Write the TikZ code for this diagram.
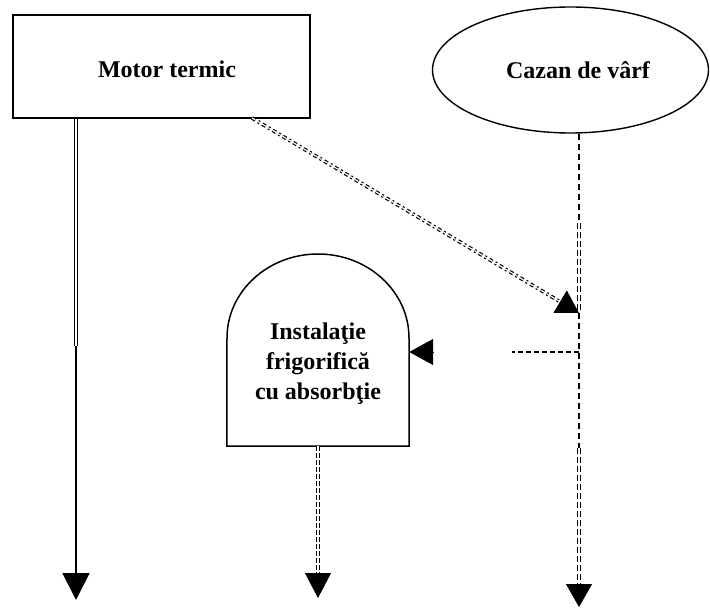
\documentclass[tikz,border=0pt]{standalone}
\usepackage{fontspec}
\setmainfont{Liberation Serif}
\usetikzlibrary{shapes.geometric,arrows.meta,calc}
\begin{document}
\begin{tikzpicture}[x=1pt,y=-1pt,
  lbl/.style={font=\bfseries\fontsize{24}{30}\selectfont, align=center, inner sep=0pt},
  border/.style={draw, line width=1.6pt},
  dblsolid/.style={draw, line width=1.1pt, double=white, double distance=1.5pt},
  thick1/.style={draw, line width=1.8pt},
  sdash/.style={draw, line width=1.5pt, dash pattern=on 6pt off 4pt},
  ddash/.style={draw, line width=1.4pt, double=white, double distance=1.8pt, dash pattern=on 6pt off 3pt},
  mdash/.style={draw, line width=1.4pt, double=white, double distance=1.8pt, dash pattern=on 5pt off 2pt},
  diag/.style={draw, line width=1.2pt, double=white, double distance=1.2pt, dash pattern=on 4pt off 3pt on 2pt off 3pt},
  arrowtip/.style={draw, line width=0.8pt, -{Triangle[length=#1, width=26pt]}},
  arrowtip/.default=25pt
]
\useasboundingbox (0,0) rectangle (710,609);

% nodes
\node[border, rectangle, minimum width=297pt, minimum height=103pt, inner sep=0pt] (motor) at (161.5,66.5) {};
\node[lbl] (motortxt) at (167,69) {Motor termic};
\node[draw, line width=1.4pt, ellipse, minimum width=276pt, minimum height=126pt, inner sep=0pt] (cazan) at (570.5,70) {};
\node[lbl] (cazantxt) at (578,70) {Cazan de vârf};

\node[minimum width=182pt, minimum height=192pt, inner sep=0pt] (inst) at (318,350) {};
\draw[border, line width=1.5pt] (inst.south west) -- (227,338)
  arc[start angle=180, end angle=0, x radius=91pt, y radius=84pt]
  -- (inst.south east) -- cycle;
\node[lbl] (insttxt) at (318,364) {Instalaţie\\frigorifică\\cu absorbţie};

% coordinates
\coordinate (Lx) at (76,0);
\coordinate (Lmid) at (76,346);
\coordinate (Lend) at (76,600);
\coordinate (Rx) at (579,0);
\coordinate (R1) at (579,223);
\coordinate (R2) at (579,313);
\coordinate (R3) at (579,448);
\coordinate (R4) at (579,584);
\coordinate (R5) at (579,607);
\coordinate (D1) at (252,118);
\coordinate (H1) at (579,352);
\coordinate (H2) at (512,352);
\coordinate (Hb) at (434,352);
\coordinate (M1) at (318,573);
\coordinate (M2) at (318,598);

% left connector
\draw[dblsolid] (motor.south -| Lx) -- (Lmid);
\draw[thick1, -{Triangle[length=27pt, width=27pt]}] (Lmid) -- (Lend);

% diagonal connector
\draw[diag] (D1) -- ($(R2)!22pt!(D1)$);
\draw[arrowtip=22pt] ($(R2)!22pt!(D1)$) -- (R2);

% right connector
\draw[sdash] (cazan.south -| Rx) -- (R1);
\draw[ddash] (R1) -- (R2);
\draw[sdash] (R2) -- (R3);
\draw[ddash] (R3) -- (R4);
\draw[arrowtip=23pt] (R4) -- (R5);

% horizontal connector
\draw[sdash, dash pattern=on 5pt off 3pt, line width=1.3pt] (H1) -- (H2);
\draw[arrowtip=24pt] (Hb) -- (inst.east |- H1);

% middle connector
\draw[mdash] (inst.south) -- (M1);
\draw[arrowtip=25pt] (M1) -- (M2);
\end{tikzpicture}
\end{document}
